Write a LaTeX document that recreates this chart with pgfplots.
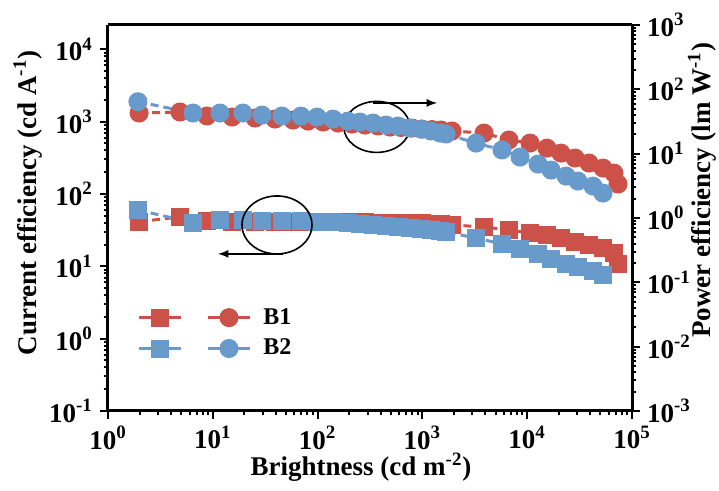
\documentclass[border=0pt]{standalone}
\usepackage{fontspec}
\setmainfont{Liberation Serif}
\usepackage{pgfplots}
\pgfplotsset{compat=1.18}
\definecolor{cred}{RGB}{204,81,72}
\definecolor{cblue}{RGB}{104,154,204}

\tikzset{
  sq/.style={line width=1.5pt, dash pattern=on 4pt off 2.5pt,
    mark=square*, mark size=3.75pt, mark options={solid}},
  ci/.style={line width=1.5pt, dash pattern=on 4pt off 2.5pt,
    mark=*, mark size=4pt, mark options={solid}},
}

\begin{document}
\begin{tikzpicture}
% current efficiency, left axis
\begin{axis}[name=ax1,
    width=262pt, height=193pt, scale only axis,
    xmode=log, ymode=log, xmin=1, xmax=1e5,
    axis line style={line width=1.5pt},
    every tick/.style={black, line width=1pt},
    major tick length=4pt, minor tick length=2.2pt,
    tick align=outside,
    tick label style={font=\fontsize{13.5}{16}\selectfont\bfseries},
    label style={font=\fontsize{13.5}{16}\selectfont\bfseries},
    ymin=0.1, ymax=2.17e4,
    axis y line*=left, xtick pos=bottom,
    xtick={1,10,100,1000,10000,100000},
    xticklabels={10\textsuperscript{0},10\textsuperscript{1},10\textsuperscript{2},10\textsuperscript{3},10\textsuperscript{4},10\textsuperscript{5}},
    ytick={0.1,1,10,100,1000,10000},
    yticklabels={10\textsuperscript{-1},10\textsuperscript{0},10\textsuperscript{1},10\textsuperscript{2},10\textsuperscript{3},10\textsuperscript{4}},
    xlabel={Brightness (cd m\textsuperscript{-2})},
    ylabel={Current efficiency (cd A\textsuperscript{-1})},
    xlabel style={at={(axis description cs:0.483,-0.145)}, anchor=center},
    ylabel style={at={(axis description cs:-0.153,0.539)}, anchor=center},
]
% B1
\addplot[sq, cred] coordinates {
  (1.98,41.5) (4.86,48.1) (8.80,42.3) (15.3,41.3) (25.3,41.2) (39.2,41.1)
  (58.2,41.0) (81.0,41.0) (113,40.9) (157,40.8) (213,40.6) (283,40.4)
  (377,40.2) (491,39.9) (625,39.7) (796,39.5) (991,39.2) (1236,38.8)
  (1504,38.3) (1916,37.3) (3870,35.0) (6700,31.8) (10640,28.9) (15450,27.1)
  (21000,24.6) (28600,21.7) (38900,19.7) (52900,17.9) (67300,15.3) (73500,10.8)
};
% B2
\addplot[sq, cblue] coordinates {
  (1.93,60.1) (6.47,40.1) (11.7,43.7) (19.4,43.5) (29.5,42.6) (45.7,42.3)
  (69.4,42.0) (98.7,41.2) (140,40.8) (195,39.7) (254,38.5) (338,37.3)
  (450,36.1) (585,35.0) (762,33.9) (970,32.8) (1208,31.8) (1472,30.8)
  (1680,29.8) (3250,24.6) (5750,20.4) (8540,17.4) (12700,14.8) (16900,12.6)
  (23500,10.8) (30500,9.79) (42500,8.61) (52900,7.59)
};
\end{axis}

% power efficiency, right axis
\begin{axis}[
    width=262pt, height=193pt, scale only axis,
    xmode=log, ymode=log, xmin=1, xmax=1e5,
    axis line style={line width=1.5pt},
    every tick/.style={black, line width=1pt},
    major tick length=4pt, minor tick length=2.2pt,
    tick align=outside,
    tick label style={font=\fontsize{13.5}{16}\selectfont\bfseries},
    label style={font=\fontsize{13.5}{16}\selectfont\bfseries},
    ymin=1e-3, ymax=1e3,
    axis y line*=right, axis x line=none,
    ytick={0.001,0.01,0.1,1,10,100,1000},
    yticklabels={10\textsuperscript{-3},10\textsuperscript{-2},10\textsuperscript{-1},10\textsuperscript{0},10\textsuperscript{1},10\textsuperscript{2},10\textsuperscript{3}},
    ylabel={Power efficiency (lm W\textsuperscript{-1})},
    ylabel style={at={(axis description cs:1.134,0.572)}, anchor=center},
    legend columns=2,
    legend cell align=left,
    legend image code/.code={\draw[mark repeat=2,mark phase=2] plot coordinates {(0pt,0pt) (10.5pt,0pt) (21pt,0pt)};},
    legend image post style={solid},
    legend style={draw=none, fill=none, font=\fontsize{12}{14}\selectfont\bfseries,
      at={(axis description cs:0.044,0.288)}, anchor=north west,
      row sep=2pt, column sep=4pt},
]
\addlegendimage{sq, cred}\addlegendentry{}
\addlegendimage{ci, cred}\addlegendentry{B1}
\addlegendimage{sq, cblue}\addlegendentry{}
\addlegendimage{ci, cblue}\addlegendentry{B2}
% B1
\addplot[ci, cred, forget plot] coordinates {
  (1.98,42.8) (4.86,44.4) (8.80,38.5) (15.3,37.1) (25.3,35.8) (39.2,34.5)
  (58.2,33.3) (81.0,32.1) (113,31.0) (157,29.9) (213,28.8) (283,27.8)
  (377,26.9) (491,25.9) (625,25.5) (796,25.0) (991,24.1) (1236,23.7)
  (1504,23.3) (1916,22.5) (3870,20.9) (6700,16.3) (10640,14.6) (15450,12.2)
  (21000,10.2) (28600,8.55) (38900,7.15) (52900,5.97) (67300,4.99) (73500,3.37)
};
% B2
\addplot[ci, cblue, forget plot] coordinates {
  (1.93,64.2) (6.47,42.8) (11.7,42.8) (19.4,42.8) (29.5,39.8) (45.7,38.4)
  (69.4,38.4) (98.7,37.1) (140,34.5) (195,32.1) (254,31.0) (338,29.9)
  (450,27.8) (585,26.9) (762,25.0) (970,24.1) (1208,22.5) (1472,20.9)
  (1680,20.2) (3250,14.6) (5750,11.4) (8540,8.85) (12700,6.89) (16900,5.56)
  (23500,4.48) (30500,3.75) (42500,3.13) (52900,2.44)
};
% annotations
\draw[line width=0.8pt] (rel axis cs:0.513,0.736) ellipse [x radius=16.5pt, y radius=12.75pt];
\draw[line width=0.8pt,-latex] (rel axis cs:0.505,0.798) -- (rel axis cs:0.628,0.798);
\draw[line width=0.8pt] (rel axis cs:0.3225,0.482) ellipse [x radius=17.5pt, y radius=14.5pt];
\draw[line width=0.8pt,-latex] (rel axis cs:0.334,0.407) -- (rel axis cs:0.21,0.407);
\end{axis}

\pgfresetboundingbox
\path (ax1.south west) ++(-54pt,-40pt) rectangle ++(359.5pt,245.5pt);
\end{tikzpicture}
\end{document}
